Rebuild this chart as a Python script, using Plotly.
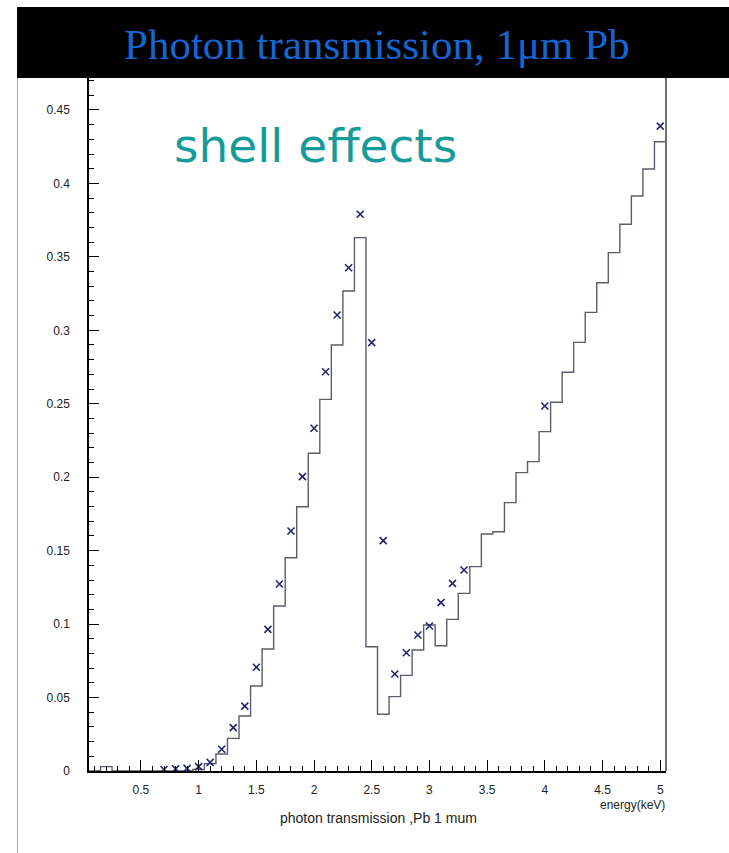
import plotly.graph_objects as go

# ---- data ----
bin_width = 0.1
bin_centers = [round(0.1 * i, 1) for i in range(1, 51)]
hist_values = [
    0.0, 0.003, 0.0, 0.0, 0.0, 0.0, 0.0, 0.0, 0.0, 0.001,      # 0.1 - 1.0
    0.005, 0.0116, 0.0222, 0.0374, 0.0579, 0.0830, 0.1123, 0.1452, 0.1799, 0.2163,  # 1.1 - 2.0
    0.2530, 0.2900, 0.3268, 0.3631, 0.0846, 0.0386, 0.0506, 0.0651, 0.0824, 0.0994,  # 2.1 - 3.0
    0.0853, 0.1032, 0.1209, 0.1391, 0.1613, 0.1629, 0.1827, 0.2031, 0.2106, 0.2310,  # 3.1 - 4.0
    0.2510, 0.2714, 0.2918, 0.3122, 0.3324, 0.3529, 0.3722, 0.3914, 0.4098, 0.4284,  # 4.1 - 5.0
]
point_energies = [0.7, 0.8, 0.9, 1.0, 1.1, 1.2, 1.3, 1.4, 1.5, 1.6, 1.7, 1.8, 1.9, 2.0,
                  2.1, 2.2, 2.3, 2.4, 2.5, 2.6, 2.7, 2.8, 2.9, 3.0, 3.1, 3.2, 3.3, 4.0, 5.0]
point_values = [0.001, 0.0015, 0.0018, 0.003, 0.0059, 0.0148, 0.0295, 0.0442, 0.0706, 0.0964,
                0.1273, 0.1634, 0.2004, 0.2333, 0.2718, 0.3104, 0.3426, 0.379, 0.2916, 0.1568,
                0.066, 0.0805, 0.0926, 0.0987, 0.1146, 0.1277, 0.1368, 0.2485, 0.439]
y_tick_vals = [0, 0.05, 0.1, 0.15, 0.2, 0.25, 0.3, 0.35, 0.4, 0.45]
y_tick_text = ["0", "0.05", "0.1", "0.15", "0.2", "0.25", "0.3", "0.35", "0.4", "0.45"]
x_tick_vals = [0.5, 1, 1.5, 2, 2.5, 3, 3.5, 4, 4.5, 5]
x_tick_text = ["0.5", "1", "1.5", "2", "2.5", "3", "3.5", "4", "4.5", "5"]

# step outline (left edges + final right edge)
step_x = [c - bin_width / 2 for c in bin_centers] + [bin_centers[-1] + bin_width / 2]
step_y = hist_values + [hist_values[-1]]

W, H = 729, 853
L, R, T, B = 89, 63, 78, 82
pw, ph = W - L - R, H - T - B

def px(x):
    return (x - L) / pw

def py(y):
    return (H - B - y) / ph

fig = go.Figure()
fig.add_trace(go.Scatter(
    x=step_x, y=step_y, mode="lines", line=dict(shape="hv", color="#5c5c6c", width=1.4),
    hoverinfo="skip", showlegend=False))
fig.add_trace(go.Scatter(
    x=point_energies, y=point_values, mode="markers",
    marker=dict(symbol="x-thin", size=7, line=dict(width=1.6, color="#24246e")),
    showlegend=False))

tickfont = dict(family="Liberation Sans, Arial, sans-serif", size=12, color="#222")
fig.update_xaxes(
    range=[0.05, 5.05], showgrid=False, zeroline=False,
    showline=True, linecolor="black", linewidth=1.5,
    tickmode="array", tickvals=x_tick_vals, ticktext=x_tick_text,
    ticks="inside", ticklen=11, tickwidth=1, tickcolor="black",
    minor=dict(dtick=0.1, tick0=0, ticks="inside", ticklen=5, tickcolor="black", tickwidth=1),
    tickfont=tickfont, ticklabelstandoff=7)
fig.update_yaxes(
    range=[0, (H - B - T) / 1469.0], showgrid=False, zeroline=False,
    showline=True, linecolor="black", linewidth=1.5,
    tickmode="array", tickvals=y_tick_vals, ticktext=y_tick_text,
    ticks="inside", ticklen=10, tickwidth=1, tickcolor="black",
    minor=dict(dtick=0.01, tick0=0, ticks="inside", ticklen=5, tickcolor="black", tickwidth=1),
    tickfont=tickfont, ticklabelstandoff=15)

shapes = [
    # black title bar
    dict(type="rect", xref="paper", yref="paper", x0=px(17), x1=px(729), y0=py(78), y1=py(7),
         fillcolor="black", line=dict(width=0), layer="above"),
    # left border of the slide area
    dict(type="line", xref="paper", yref="paper", x0=px(17.5), x1=px(17.5), y0=py(853), y1=py(78),
         line=dict(color="#aaaaaa", width=1)),
    # right frame
    dict(type="line", xref="paper", yref="paper", x0=1, x1=1, y0=0, y1=1,
         line=dict(color="#707070", width=2)),
]

annotations = [
    dict(text="Photon transmission, 1\u03bcm Pb", xref="paper", yref="paper",
         x=px(377), y=py(44), xanchor="center", yanchor="middle", showarrow=False,
         font=dict(family="Liberation Serif, Times New Roman, serif", size=43, color="#1466d2")),
    dict(text="shell effects", xref="paper", yref="paper",
         x=px(315), y=py(145), xanchor="center", yanchor="middle", showarrow=False,
         font=dict(family="DejaVu Sans, sans-serif", size=47, color="#169b9b")),
    dict(text="energy(keV)", xref="paper", yref="paper",
         x=px(667), y=py(805), xanchor="right", yanchor="middle", showarrow=False,
         font=dict(family="Liberation Sans Narrow, Liberation Sans, Arial, sans-serif", size=12, color="#222")),
    dict(text="photon transmission ,Pb 1 mum", xref="paper", yref="paper",
         x=px(378), y=py(818), xanchor="center", yanchor="middle", showarrow=False,
         font=dict(family="Liberation Sans Narrow, Liberation Sans, Arial, sans-serif", size=14, color="#222")),
]

fig.update_layout(
    width=W, height=H, margin=dict(l=L, r=R, t=T, b=B, pad=0),
    paper_bgcolor="white", plot_bgcolor="white",
    shapes=shapes, annotations=annotations, showlegend=False)

fig.write_html("out.html")
